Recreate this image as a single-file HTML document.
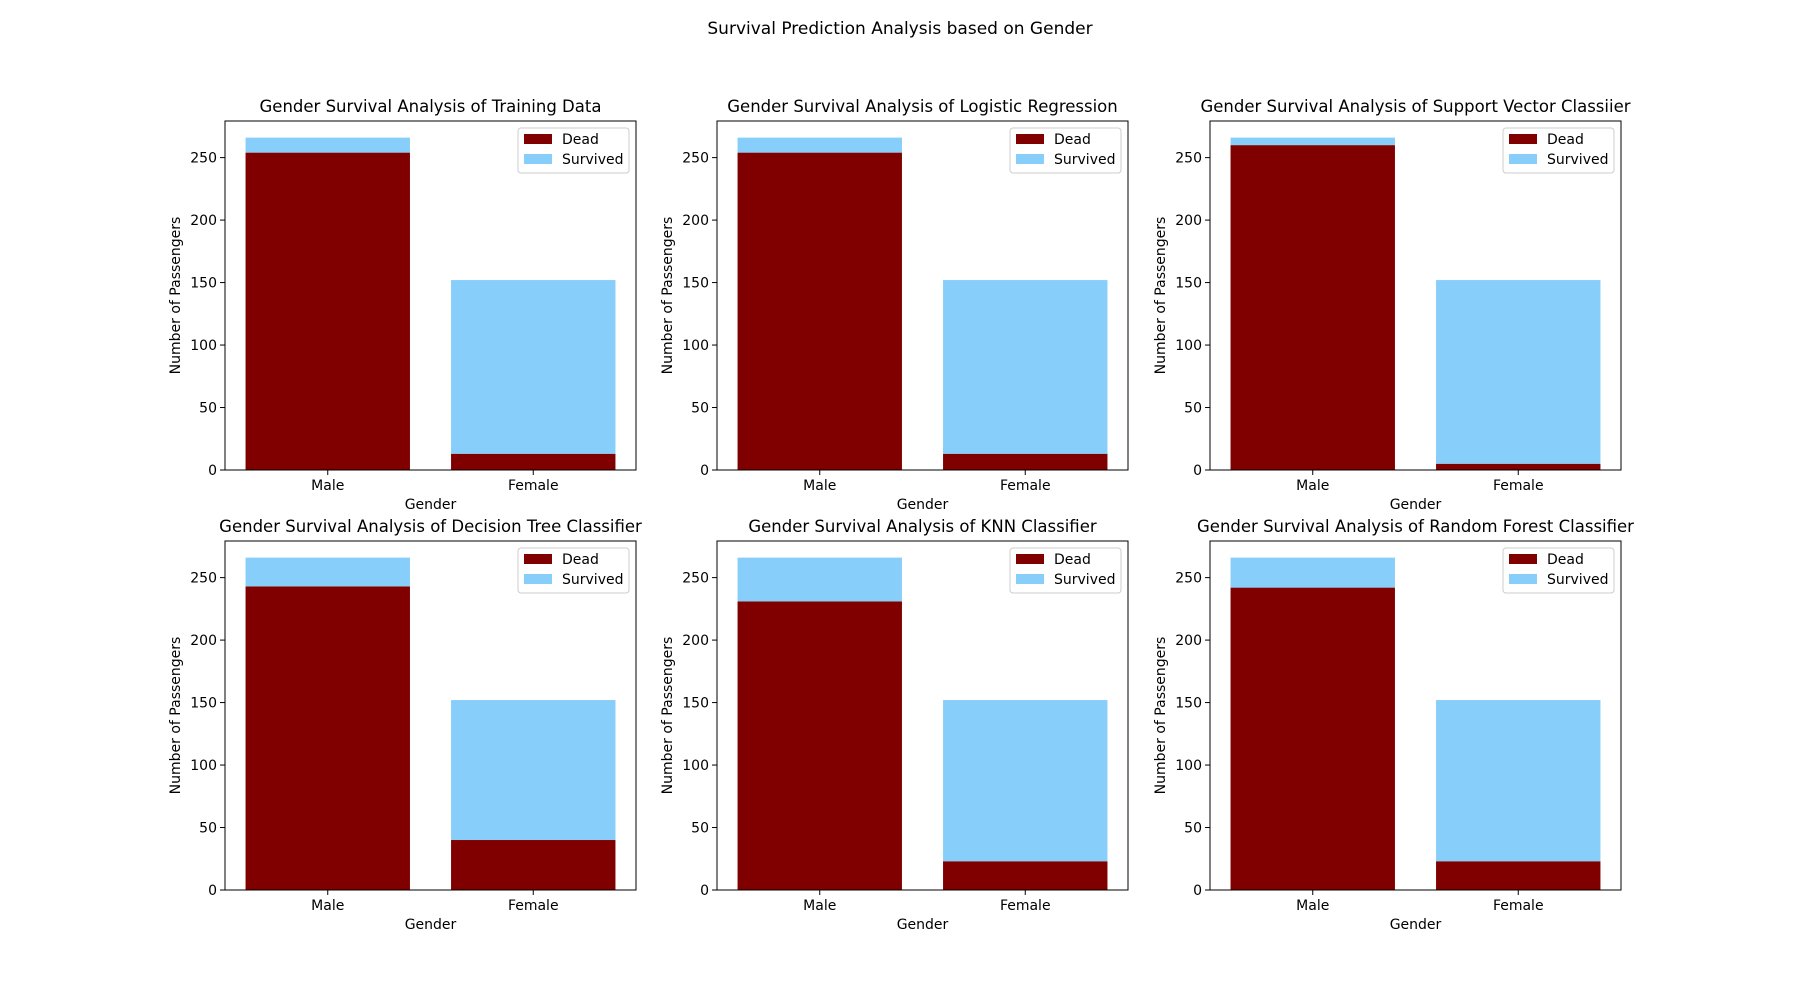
<!DOCTYPE html>
<html><head><meta charset="utf-8"><style>
body{margin:0;background:#fff;font-family:"Liberation Sans","DejaVu Sans",sans-serif}
svg text{font-family:"DejaVu Sans","Liberation Sans",sans-serif;fill:#000}
</style></head><body>
<svg id="fig" width="1800" height="1000" xmlns="http://www.w3.org/2000/svg">
<text x="900" y="34" font-size="17" text-anchor="middle">Survival Prediction Analysis based on Gender</text>
</svg>
<script>
const titles=["Gender Survival Analysis of Training Data","Gender Survival Analysis of Logistic Regression","Gender Survival Analysis of Support Vector Classiier","Gender Survival Analysis of Decision Tree Classifier","Gender Survival Analysis of KNN Classifier","Gender Survival Analysis of Random Forest Classifier"];
const categories=["Male","Female"];
const totals=[266,152];
const deadTraining=[254,13];
const deadLR=[254,13];
const deadSVC=[260,5];
const deadDT=[243,40];
const deadKNN=[231,23];
const deadRF=[242,23];
const yTicks=[0,50,100,150,200,250];
const deadSets=[deadTraining,deadLR,deadSVC,deadDT,deadKNN,deadRF];
const svg=document.getElementById('fig');const NS="http://www.w3.org/2000/svg";
function mk(t,a,p){const e=document.createElementNS(NS,t);for(const k in a)e.setAttribute(k,a[k]);(p||svg).appendChild(e);return e;}
const lefts=[225,717,1210],tops=[121,541],W=411,H=349;
const yMax=Math.max(...totals)*1.05;
deadSets.forEach((dead,i)=>{
 const L=lefts[i%3],T=tops[Math.floor(i/3)],B=T+H;
 const g=mk('g',{});
 
 
 const x=v=>L+(v+0.5)/2*W, y=v=>B-v/yMax*H;
 const t=mk('text',{x:L+W/2,y:T-9,'font-size':16.5,'text-anchor':'middle'},g);t.textContent=titles[i];
 
 
 categories.forEach((c,j)=>{
  const bw=0.8/2*W,x0=x(j)-bw/2;
  const r1=mk('rect',{x:x0,y:y(dead[j]),width:bw,height:y(0)-y(dead[j]),fill:'#800000'},g);
  
  
  const sv=totals[j]-dead[j];
  const r2=mk('rect',{x:x0,y:y(totals[j]),width:bw,height:y(dead[j])-y(totals[j]),fill:'#87cefa'},g);
  
  
  mk('line',{x1:x(j),x2:x(j),y1:B,y2:B+5,stroke:'#000'},g);
  const tl=mk('text',{x:x(j),y:B+20,'font-size':14,'text-anchor':'middle'},g);tl.textContent=c;
  
  
 });
 yTicks.forEach(v=>{
  mk('line',{x1:L-5,x2:L,y1:y(v),y2:y(v),stroke:'#000'},g);
  const tl=mk('text',{x:L-8,y:y(v)+5,'font-size':14,'text-anchor':'end'},g);tl.textContent=v;
  
  
 });
 mk('rect',{x:L,y:T,width:W,height:H,fill:'none',stroke:'#000','stroke-width':1},g);
 const xl=mk('text',{x:L+W/2,y:B+39,'font-size':14,'text-anchor':'middle'},g);xl.textContent='Gender';
 
 
 const yl=mk('text',{x:0,y:0,'font-size':14,'text-anchor':'middle',transform:`translate(${L-45},${T+H/2}) rotate(-90)`},g);yl.textContent='Number of Passengers';
 
 
 const lg=mk('g',{},g);
 
 
 const lx=L+W-118,ly=T+7;
 mk('rect',{x:lx,y:ly,width:111,height:45,rx:3,fill:'#fff',stroke:'#ccc'},lg);
 [['Dead','#800000'],['Survived','#87cefa']].forEach((e,k)=>{
  mk('rect',{x:lx+6,y:ly+6+k*20,width:28,height:10,fill:e[1]},lg);
  const tt=mk('text',{x:lx+44,y:ly+16+k*20,'font-size':14},lg);tt.textContent=e[0];
  
  
 });
});
</script>
</body></html>
